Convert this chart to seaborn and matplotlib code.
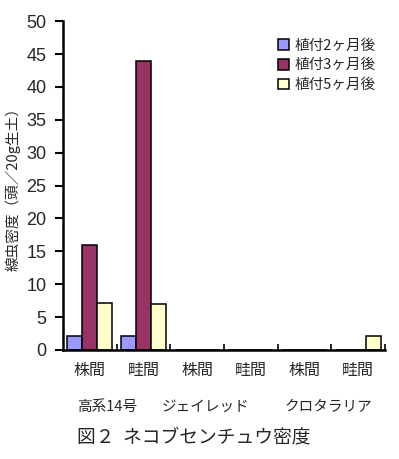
import matplotlib
matplotlib.use("Agg")
import matplotlib.pyplot as plt
import seaborn as sns
import pandas as pd

varieties = ["高系14号", "ジェイレッド", "クロタラリア"]
positions = ["株間", "畦間"]
series = ["植付2ヶ月後", "植付3ヶ月後", "植付5ヶ月後"]
v_2m = [2.2, 2.2, 0, 0, 0, 0]
v_3m = [16, 44, 0, 0, 0, 0]
v_5m = [7.2, 7.0, 0, 0, 0, 2.2]
colors = ["#9999FF", "#993366", "#FFFFCC"]

cats = [f"{v}-{p}" for v in varieties for p in positions]
rows = []
for s, vals in zip(series, [v_2m, v_3m, v_5m]):
    for c, val in zip(cats, vals):
        rows.append({"cat": c, "series": s, "value": val})
df = pd.DataFrame(rows)

sns.set_style("white")
plt.rcParams["font.family"] = ["Noto Sans CJK JP", "DejaVu Sans"]

fig = plt.figure(figsize=(3.99, 4.59), dpi=100)
ax = fig.add_axes([0.158, 0.2375, 0.807, 0.7165])
sns.barplot(data=df, x="cat", y="value", hue="series", order=cats,
            hue_order=series, palette=colors, width=0.84,
            edgecolor="black", linewidth=1.1, ax=ax, saturation=1)

ax.set_ylim(0, 50)
ax.set_yticks(range(0, 51, 5))
ax.set_yticklabels([str(v) for v in range(0, 51, 5)], family="Liberation Sans", fontsize=13)
ax.set_xlim(-0.5, 5.5)
ax.set_xticks([i + 0.5 for i in range(6)], minor=False)
ax.set_xticklabels([])
ax.tick_params(axis="x", which="major", direction="in", length=4, width=1.2, color="black", bottom=True)
ax.tick_params(axis="y", direction="out", length=6, width=1.5, color="black", left=True, pad=6)
for i, c in enumerate(cats):
    ax.text(i, -3.1, c.split("-")[1], ha="center", va="center", fontsize=11.5)
var_x = [0.32, 2.15, 4.44]
for x, v in zip(var_x, varieties):
    ax.text(x, -8.7, v, ha="center", va="center", fontsize=10.5)
fig.text(0.485, 0.048, "図２  ネコブセンチュウ密度", ha="center", va="center", fontsize=13.5)

for s in ["top", "right"]:
    ax.spines[s].set_visible(False)
for s in ["left", "bottom"]:
    ax.spines[s].set_color("black")
    ax.spines[s].set_linewidth(1.8)

ax.set_xlabel("")
ax.set_ylabel("線虫密度（頭／20g生土）", fontsize=10.5, labelpad=4)
ax.legend(loc="upper left", bbox_to_anchor=(0.65, 0.965), frameon=False,
          fontsize=10.5, handlelength=0.75, handleheight=0.75, handletextpad=0.4,
          labelspacing=0.4, borderaxespad=0)

fig.savefig("out.png", dpi=100)
